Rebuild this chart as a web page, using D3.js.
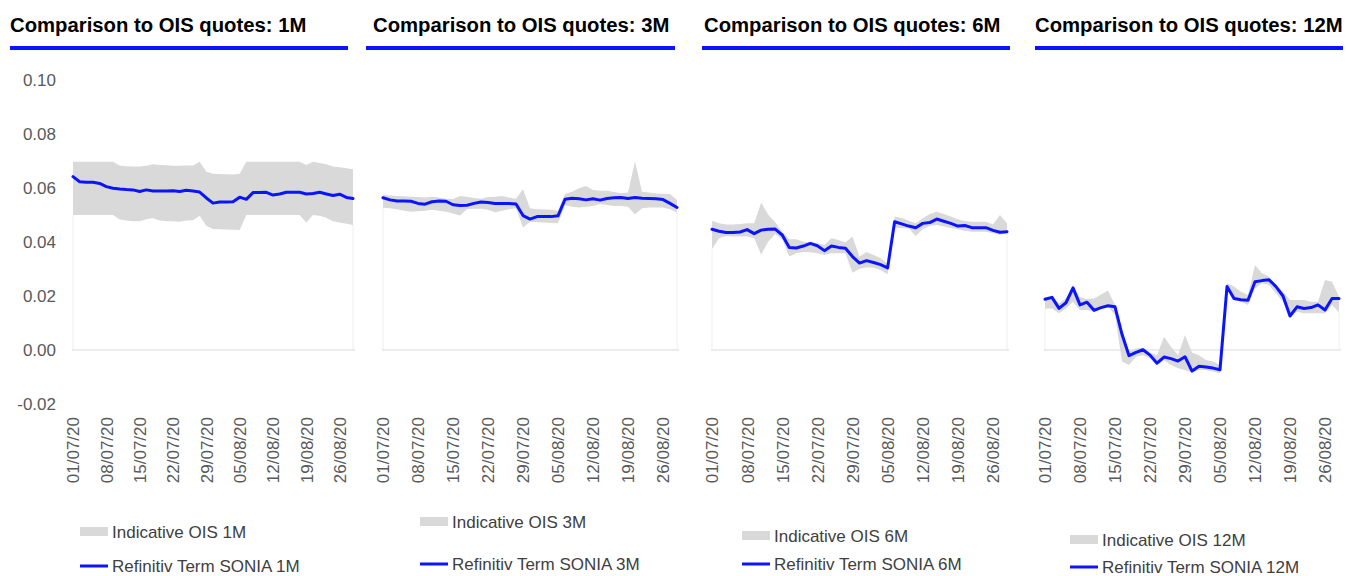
<!DOCTYPE html>
<html>
<head>
<meta charset="utf-8">
<script src="https://cdn.jsdelivr.net/npm/d3@7"></script>
<style>
  html, body { margin: 0; padding: 0; background: #ffffff; }
  svg { display: block; font-family: "Liberation Sans", Arial, sans-serif; }
</style>
</head>
<body>
<svg id="chart" width="1348" height="576"></svg>
<script>
// ---------------- DATA ----------------
const dates = [
  "01/07/20","02/07/20","03/07/20","06/07/20","07/07/20","08/07/20","09/07/20","10/07/20",
  "13/07/20","14/07/20","15/07/20","16/07/20","17/07/20","20/07/20","21/07/20","22/07/20",
  "23/07/20","24/07/20","27/07/20","28/07/20","29/07/20","30/07/20","31/07/20","03/08/20",
  "04/08/20","05/08/20","06/08/20","07/08/20","10/08/20","11/08/20","12/08/20","13/08/20",
  "14/08/20","17/08/20","18/08/20","19/08/20","20/08/20","21/08/20","24/08/20","25/08/20",
  "26/08/20","27/08/20","28/08/20"
];
const tickDates = ["01/07/20","08/07/20","15/07/20","22/07/20","29/07/20","05/08/20","12/08/20","19/08/20","26/08/20"];
const yTicks = [-0.02, 0.00, 0.02, 0.04, 0.06, 0.08, 0.10];
const tenors = ["1M", "3M", "6M", "12M"];

// Refinitiv Term SONIA
const sonia1M = [0.0642,0.0623,0.0621,0.0621,0.0617,0.0605,0.0599,0.0596,0.0594,0.0593,0.0587,0.0593,0.0589,0.0589,0.0589,0.0590,0.0587,0.0592,0.0589,0.0585,0.0563,0.0544,0.0548,0.0548,0.0549,0.0566,0.0558,0.0583,0.0583,0.0584,0.0574,0.0578,0.0584,0.0584,0.0584,0.0578,0.0580,0.0584,0.0578,0.0572,0.0577,0.0565,0.0561];
const sonia3M = [0.0564,0.0556,0.0552,0.0552,0.0551,0.0543,0.0540,0.0549,0.0552,0.0551,0.0538,0.0535,0.0536,0.0543,0.0548,0.0546,0.0543,0.0543,0.0543,0.0541,0.0498,0.0485,0.0494,0.0494,0.0494,0.0497,0.0558,0.0562,0.0560,0.0556,0.0560,0.0555,0.0561,0.0564,0.0565,0.0561,0.0565,0.0562,0.0561,0.0560,0.0557,0.0543,0.0528];
const sonia6M = [0.0447,0.0440,0.0435,0.0435,0.0437,0.0446,0.0431,0.0444,0.0447,0.0448,0.0426,0.0380,0.0378,0.0385,0.0395,0.0386,0.0368,0.0385,0.0380,0.0377,0.0346,0.0322,0.0331,0.0324,0.0316,0.0304,0.0475,0.0467,0.0459,0.0453,0.0469,0.0472,0.0485,0.0477,0.0469,0.0459,0.0461,0.0453,0.0453,0.0453,0.0443,0.0436,0.0438];
const sonia12M = [0.0188,0.0195,0.0154,0.0175,0.0230,0.0167,0.0177,0.0147,0.0157,0.0164,0.0160,0.0058,-0.0021,-0.0009,0.0001,-0.0019,-0.0049,-0.0026,-0.0032,-0.0041,-0.0025,-0.0078,-0.0060,-0.0063,-0.0067,-0.0073,0.0235,0.0191,0.0186,0.0184,0.0253,0.0257,0.0260,0.0235,0.0200,0.0126,0.0160,0.0154,0.0157,0.0167,0.0148,0.0191,0.0191];

// Indicative OIS range (high / low)
const oisHigh1M = [0.0697,0.0697,0.0697,0.0697,0.0697,0.0697,0.0697,0.0683,0.0681,0.0680,0.0680,0.0682,0.0688,0.0685,0.0684,0.0682,0.0682,0.0683,0.0683,0.0697,0.0660,0.0653,0.0652,0.0651,0.0650,0.0653,0.0697,0.0697,0.0697,0.0697,0.0697,0.0697,0.0697,0.0697,0.0697,0.0685,0.0697,0.0693,0.0688,0.0680,0.0677,0.0673,0.0669];
const oisLow1M  = [0.0500,0.0500,0.0500,0.0500,0.0500,0.0500,0.0500,0.0483,0.0480,0.0477,0.0477,0.0484,0.0488,0.0480,0.0477,0.0477,0.0475,0.0480,0.0481,0.0497,0.0460,0.0448,0.0447,0.0446,0.0445,0.0444,0.0500,0.0500,0.0500,0.0500,0.0500,0.0500,0.0500,0.0500,0.0500,0.0472,0.0500,0.0497,0.0490,0.0477,0.0472,0.0468,0.0463];
const oisHigh3M = [0.0574,0.0572,0.0570,0.0569,0.0568,0.0567,0.0565,0.0568,0.0565,0.0560,0.0559,0.0570,0.0568,0.0563,0.0560,0.0567,0.0568,0.0570,0.0565,0.0560,0.0595,0.0525,0.0521,0.0520,0.0519,0.0516,0.0578,0.0586,0.0599,0.0607,0.0593,0.0590,0.0590,0.0585,0.0581,0.0583,0.0698,0.0586,0.0583,0.0580,0.0579,0.0578,0.0556];
const oisLow3M  = [0.0527,0.0525,0.0521,0.0516,0.0512,0.0514,0.0516,0.0519,0.0516,0.0512,0.0506,0.0498,0.0521,0.0523,0.0523,0.0519,0.0510,0.0516,0.0521,0.0525,0.0454,0.0475,0.0473,0.0472,0.0470,0.0469,0.0537,0.0531,0.0528,0.0531,0.0533,0.0541,0.0537,0.0533,0.0533,0.0531,0.0502,0.0525,0.0528,0.0528,0.0528,0.0521,0.0509];
const oisHigh6M = [0.0479,0.0469,0.0465,0.0465,0.0467,0.0469,0.0469,0.0546,0.0501,0.0473,0.0438,0.0410,0.0410,0.0401,0.0398,0.0395,0.0389,0.0414,0.0407,0.0398,0.0420,0.0346,0.0363,0.0352,0.0340,0.0319,0.0494,0.0489,0.0479,0.0469,0.0488,0.0504,0.0512,0.0504,0.0494,0.0484,0.0478,0.0475,0.0475,0.0475,0.0465,0.0500,0.0469];
const oisLow6M  = [0.0373,0.0414,0.0422,0.0420,0.0420,0.0420,0.0414,0.0354,0.0401,0.0430,0.0410,0.0346,0.0358,0.0363,0.0362,0.0358,0.0352,0.0358,0.0358,0.0358,0.0286,0.0301,0.0306,0.0306,0.0296,0.0281,0.0454,0.0451,0.0451,0.0422,0.0447,0.0459,0.0463,0.0457,0.0452,0.0447,0.0442,0.0438,0.0438,0.0438,0.0432,0.0427,0.0432];
const oisHigh12M = [0.0195,0.0199,0.0173,0.0191,0.0233,0.0195,0.0189,0.0191,0.0206,0.0220,0.0167,0.0062,-0.0006,0.0006,0.0009,-0.0009,-0.0019,0.0049,0.0012,-0.0019,0.0056,-0.0009,-0.0019,-0.0037,-0.0043,-0.0056,0.0247,0.0235,0.0216,0.0204,0.0315,0.0284,0.0272,0.0238,0.0216,0.0185,0.0185,0.0185,0.0179,0.0179,0.0259,0.0253,0.0198];
const oisLow12M  = [0.0154,0.0154,0.0136,0.0154,0.0179,0.0148,0.0148,0.0142,0.0152,0.0160,0.0130,-0.0043,-0.0056,-0.0025,-0.0019,-0.0031,-0.0056,-0.0037,-0.0056,-0.0068,-0.0074,-0.0083,-0.0074,-0.0074,-0.0080,-0.0086,0.0228,0.0185,0.0179,0.0167,0.0228,0.0247,0.0241,0.0210,0.0179,0.0123,0.0142,0.0136,0.0136,0.0136,0.0136,0.0167,0.0140];

// ---------------- LAYOUT ----------------
const panels = [
  { tenor: "1M",  sonia: sonia1M,  high: oisHigh1M,  low: oisLow1M,  x0: 73,   x1: 353,  titleX: 10,   ulX0: 10,   ulX1: 348,  legX: 80,   legY1: 532, legY2: 566, yAxis: true },
  { tenor: "3M",  sonia: sonia3M,  high: oisHigh3M,  low: oisLow3M,  x0: 383,  x1: 677,  titleX: 373,  ulX0: 366,  ulX1: 675,  legX: 420,  legY1: 522, legY2: 564, yAxis: false },
  { tenor: "6M",  sonia: sonia6M,  high: oisHigh6M,  low: oisLow6M,  x0: 712,  x1: 1007, titleX: 704,  ulX0: 702,  ulX1: 1010, legX: 742,  legY1: 536, legY2: 564, yAxis: false },
  { tenor: "12M", sonia: sonia12M, high: oisHigh12M, low: oisLow12M, x0: 1045, x1: 1339, titleX: 1035, ulX0: 1035, ulX1: 1343, legX: 1070, legY1: 540, legY2: 567, yAxis: false }
];

const BLUE = "#0a14ff";
const BAND = "#d9d9d9";
const svg = d3.select("#chart");
svg.append("rect").attr("width", 1348).attr("height", 576).attr("fill", "#ffffff");

const y = d3.scaleLinear().domain([-0.02, 0.10]).range([404, 80]);

panels.forEach(p => {
  const g = svg.append("g");
  const x = d3.scalePoint().domain(dates).range([p.x0, p.x1]).padding(0);

  // Title + underline
  g.append("text")
    .attr("x", p.titleX).attr("y", 32)
    .attr("font-size", "20.3px").attr("font-weight", "bold").attr("fill", "#000")
    .text("Comparison to OIS quotes: " + p.tenor);
  g.append("rect")
    .attr("x", p.ulX0).attr("y", 46).attr("width", p.ulX1 - p.ulX0).attr("height", 4)
    .attr("fill", BLUE);

  // faint plot edges
  g.append("line")
    .attr("x1", x(dates[0])).attr("x2", x(dates[0]))
    .attr("y1", y(p.low[0])).attr("y2", y(0))
    .attr("stroke", "#efefef").attr("stroke-width", 1);
  g.append("line")
    .attr("x1", x(dates[dates.length - 1])).attr("x2", x(dates[dates.length - 1]))
    .attr("y1", y(p.low[p.low.length - 1])).attr("y2", y(0))
    .attr("stroke", "#efefef").attr("stroke-width", 1);

  // OIS band
  const area = d3.area()
    .x((d, i) => x(dates[i]))
    .y0((d, i) => y(p.low[i]))
    .y1((d, i) => y(p.high[i]));
  g.append("path").datum(p.high).attr("d", area).attr("fill", BAND);

  // zero line
  g.append("line")
    .attr("x1", p.x0 - 1).attr("x2", p.x1 + 2)
    .attr("y1", y(0)).attr("y2", y(0))
    .attr("stroke", "#d9d9d9").attr("stroke-width", 1);

  // SONIA line
  const line = d3.line().x((d, i) => x(dates[i])).y(d => y(d));
  g.append("path").datum(p.sonia).attr("d", line)
    .attr("fill", "none").attr("stroke", BLUE).attr("stroke-width", 3)
    .attr("stroke-linejoin", "round").attr("stroke-linecap", "round");

  // X axis (rotated date labels)
  const xAxis = d3.axisBottom(x).tickValues(tickDates).tickSize(0);
  const gx = g.append("g").attr("transform", "translate(0,417)").call(xAxis);
  gx.select(".domain").remove();
  gx.selectAll("text")
    .attr("x", 0).attr("y", 0).attr("dy", "0.35em")
    .attr("transform", "rotate(-90)")
    .style("text-anchor", "end")
    .attr("fill", "#595959")
    .style("font-size", "17px")
    .style("font-family", "'Liberation Sans', Arial, sans-serif");

  // Y axis (first panel only)
  if (p.yAxis) {
    const yAxis = d3.axisLeft(y).tickValues(yTicks).tickSize(0).tickPadding(0)
      .tickFormat(d => d.toFixed(2));
    const gy = g.append("g").attr("transform", "translate(56,0)").call(yAxis);
    gy.select(".domain").remove();
    gy.selectAll("text")
      .attr("fill", "#595959")
      .style("font-size", "17px")
      .style("font-family", "'Liberation Sans', Arial, sans-serif");
  }

  // Legend
  g.append("rect").attr("x", p.legX).attr("y", p.legY1 - 5).attr("width", 28).attr("height", 9).attr("fill", BAND);
  g.append("text").attr("x", p.legX + 32).attr("y", p.legY1).attr("dy", "0.35em")
    .attr("font-size", "17px").attr("fill", "#404040").text("Indicative OIS " + p.tenor);
  g.append("line").attr("x1", p.legX).attr("x2", p.legX + 28).attr("y1", p.legY2).attr("y2", p.legY2)
    .attr("stroke", BLUE).attr("stroke-width", 3);
  g.append("text").attr("x", p.legX + 32).attr("y", p.legY2).attr("dy", "0.35em")
    .attr("font-size", "17px").attr("fill", "#404040").text("Refinitiv Term SONIA " + p.tenor);
});
</script>
</body>
</html>
